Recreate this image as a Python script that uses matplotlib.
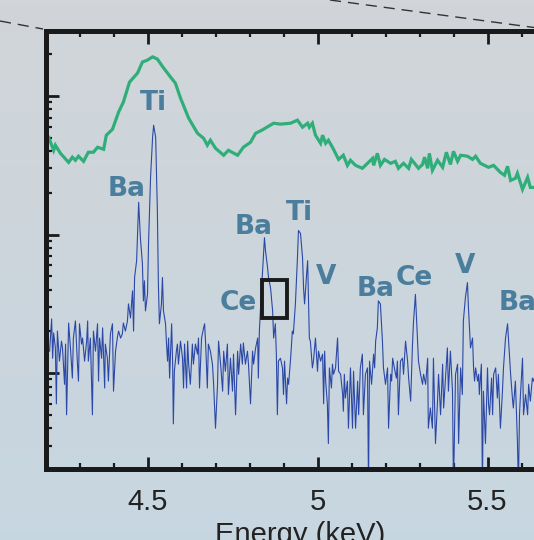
import numpy as np
import matplotlib
matplotlib.use("Agg")
from matplotlib import pyplot as plt
from matplotlib.lines import Line2D
from matplotlib.patches import Rectangle
from matplotlib.ticker import LogLocator, MultipleLocator, NullFormatter, FixedLocator

# --- data (energy in keV, counts on a log axis) ---
green_energy = [4.209, 4.224, 4.229, 4.244, 4.268, 4.279, 4.288, 4.297, 4.312, 4.326,
                4.341, 4.353, 4.371, 4.379, 4.397, 4.415, 4.429, 4.447, 4.471, 4.485,
                4.500, 4.515, 4.529, 4.547, 4.568, 4.582, 4.597, 4.621, 4.647, 4.665,
                4.676, 4.685, 4.700, 4.724, 4.738, 4.765, 4.782, 4.803, 4.818, 4.838,
                4.856, 4.871, 4.891, 4.921, 4.941, 4.956, 4.971, 4.976, 4.985, 4.994,
                5.009, 5.015, 5.024, 5.032, 5.044, 5.062, 5.076, 5.088, 5.097, 5.112,
                5.132, 5.147, 5.162, 5.165, 5.176, 5.185, 5.197, 5.215, 5.229, 5.238,
                5.253, 5.268, 5.276, 5.288, 5.297, 5.309, 5.315, 5.324, 5.329, 5.338,
                5.353, 5.368, 5.379, 5.391, 5.400, 5.412, 5.421, 5.441, 5.456, 5.465,
                5.479, 5.503, 5.518, 5.538, 5.550, 5.559, 5.568, 5.582, 5.588, 5.603,
                5.618, 5.626, 5.638, 5.650]
green_counts = [50.5, 40.6, 44.2, 38.6, 33.2, 36.2, 34.4, 36.8, 33.8, 39.3,
                39.3, 42.7, 41.3, 52.2, 57.6, 76.6, 90.5, 126, 147, 176,
                182, 192, 185, 160, 137, 124, 96.8, 69.3, 53.9, 49.6,
                44.2, 48.0, 42.0, 37.4, 40.6, 37.4, 42.7, 46.4, 53.9, 57.0,
                60.6, 63.7, 62.7, 63.7, 67.0, 59.6, 63.7, 59.6, 63.7, 52.2,
                45.6, 52.2, 45.6, 48.0, 42.7, 34.9, 37.4, 31.6, 34.4, 31.6,
                30.1, 32.7, 35.5, 31.6, 38.6, 31.6, 34.9, 32.7, 33.8, 30.1,
                32.7, 30.1, 34.9, 32.1, 30.1, 32.1, 36.2, 30.1, 38.6, 29.1,
                34.4, 30.6, 39.3, 32.1, 39.9, 33.8, 37.4, 36.8, 34.9, 36.8,
                32.7, 30.6, 31.6, 28.1, 26.8, 31.1, 24.6, 25.5, 27.7, 21.2,
                25.9, 21.9, 21.9, 21.0]

blue_energy = [4.212, 4.218, 4.221, 4.224, 4.229, 4.232, 4.235, 4.241, 4.247, 4.250,
               4.256, 4.259, 4.262, 4.268, 4.274, 4.279, 4.282, 4.288, 4.294, 4.297,
               4.300, 4.306, 4.309, 4.315, 4.321, 4.324, 4.326, 4.332, 4.338, 4.341,
               4.347, 4.353, 4.356, 4.359, 4.365, 4.368, 4.374, 4.376, 4.382, 4.385,
               4.391, 4.397, 4.400, 4.406, 4.412, 4.415, 4.421, 4.426, 4.429, 4.435,
               4.441, 4.444, 4.450, 4.456, 4.459, 4.462, 4.468, 4.474, 4.479, 4.485,
               4.488, 4.491, 4.494, 4.500, 4.503, 4.509, 4.515, 4.518, 4.524, 4.529,
               4.532, 4.535, 4.541, 4.544, 4.547, 4.553, 4.556, 4.559, 4.562, 4.565,
               4.571, 4.574, 4.576, 4.579, 4.585, 4.588, 4.591, 4.597, 4.603, 4.606,
               4.609, 4.615, 4.618, 4.621, 4.626, 4.632, 4.635, 4.641, 4.647, 4.650,
               4.653, 4.659, 4.665, 4.668, 4.671, 4.676, 4.679, 4.685, 4.691, 4.694,
               4.700, 4.706, 4.709, 4.715, 4.721, 4.724, 4.729, 4.735, 4.738, 4.744,
               4.750, 4.753, 4.759, 4.765, 4.768, 4.774, 4.779, 4.782, 4.788, 4.794,
               4.797, 4.803, 4.809, 4.812, 4.818, 4.824, 4.826, 4.829, 4.835, 4.838,
               4.844, 4.847, 4.853, 4.856, 4.862, 4.868, 4.871, 4.876, 4.879, 4.882,
               4.885, 4.891, 4.897, 4.900, 4.903, 4.909, 4.912, 4.915, 4.921, 4.926,
               4.929, 4.935, 4.941, 4.944, 4.950, 4.956, 4.959, 4.962, 4.968, 4.971,
               4.976, 4.979, 4.982, 4.985, 4.988, 4.994, 5.000, 5.003, 5.009, 5.015,
               5.018, 5.021, 5.024, 5.029, 5.032, 5.035, 5.041, 5.044, 5.047, 5.053,
               5.059, 5.062, 5.068, 5.074, 5.076, 5.079, 5.082, 5.088, 5.091, 5.097,
               5.103, 5.106, 5.112, 5.118, 5.121, 5.126, 5.132, 5.135, 5.141, 5.147,
               5.150, 5.153, 5.159, 5.165, 5.168, 5.171, 5.176, 5.179, 5.185, 5.191,
               5.194, 5.200, 5.206, 5.209, 5.215, 5.218, 5.221, 5.226, 5.232, 5.235,
               5.238, 5.244, 5.250, 5.253, 5.259, 5.265, 5.268, 5.274, 5.279, 5.282,
               5.288, 5.294, 5.297, 5.303, 5.309, 5.312, 5.318, 5.324, 5.326, 5.332,
               5.338, 5.341, 5.347, 5.353, 5.356, 5.362, 5.368, 5.371, 5.376, 5.382,
               5.385, 5.391, 5.397, 5.400, 5.406, 5.412, 5.415, 5.421, 5.426, 5.429,
               5.435, 5.441, 5.444, 5.450, 5.456, 5.459, 5.462, 5.465, 5.471, 5.474,
               5.476, 5.482, 5.485, 5.488, 5.494, 5.500, 5.503, 5.506, 5.512, 5.515,
               5.518, 5.524, 5.529, 5.532, 5.538, 5.544, 5.547, 5.553, 5.559, 5.562,
               5.568, 5.574, 5.576, 5.582, 5.588, 5.591, 5.594, 5.597, 5.603, 5.606,
               5.612, 5.618, 5.621, 5.626, 5.632, 5.635, 5.644]
blue_counts = [1.44, 2.46, 1.28, 1.95, 1.52, 0.60, 2.01, 1.22, 1.70, 1.52,
               0.83, 1.62, 0.50, 2.30, 1.44, 0.92, 1.79, 2.38, 1.16, 0.875,
               2.27, 1.62, 1.79, 1.22, 1.70, 2.38, 1.22, 1.79, 0.50, 2.01,
               1.44, 2.27, 0.875, 1.79, 1.28, 2.12, 0.78, 1.62, 1.28, 0.875,
               1.92, 2.27, 0.74, 1.44, 1.85, 2.01, 1.79, 1.92, 2.30, 2.01,
               2.38, 3.16, 2.50, 3.93, 2.01, 4.9, 6.48, 17.1, 9.5, 6.2,
               3.32, 4.64, 2.81, 3.7, 8.6, 25.9, 50.5, 61.6, 50.5, 14.9,
               4.4, 2.27, 3.16, 4.9, 2.81, 2.27, 1.62, 1.22, 1.79, 0.92,
               2.27, 1.16, 0.43, 1.03, 1.44, 1.62, 1.16, 1.70, 1.28, 0.78,
               1.62, 0.78, 1.70, 1.16, 0.83, 1.62, 1.16, 1.62, 1.37, 1.79,
               0.78, 1.79, 2.12, 2.27, 1.62, 0.78, 1.62, 1.44, 1.16, 0.875,
               0.40, 0.83, 1.70, 1.16, 0.74, 1.44, 1.03, 1.62, 0.70, 1.28,
               0.74, 1.37, 0.50, 1.44, 0.98, 1.62, 1.16, 1.65, 1.16, 1.44,
               1.16, 0.60, 1.44, 1.16, 1.52, 1.79, 0.92, 2.01, 3.93, 5.2,
               9.5, 7.66, 5.8, 4.9, 4.1, 2.81, 1.79, 2.27, 1.37, 0.50,
               1.22, 1.28, 1.09, 0.70, 1.22, 0.60, 0.92, 0.83, 1.28, 2.01,
               1.92, 3.16, 6.8, 10.7, 10.2, 6.8, 4.1, 3.16, 5.2, 6.48,
               1.79, 1.70, 1.37, 1.09, 1.22, 1.79, 1.03, 1.44, 1.22, 1.37,
               0.60, 1.44, 0.875, 0.60, 0.31, 1.09, 0.78, 1.16, 0.98, 1.09,
               1.79, 1.03, 0.98, 0.70, 0.53, 0.98, 0.66, 0.875, 0.40, 1.09,
               0.40, 1.03, 0.40, 0.875, 0.50, 1.09, 1.37, 0.50, 0.98, 1.09,
               0.15, 1.22, 0.83, 1.37, 1.09, 1.70, 2.12, 3.32, 3.16, 1.70,
               1.09, 0.83, 1.09, 0.40, 0.98, 0.875, 1.28, 1.09, 0.92, 1.22,
               0.50, 1.22, 1.28, 0.98, 1.70, 1.22, 0.92, 0.627, 1.52, 2.27,
               3.7, 1.79, 1.22, 0.98, 0.83, 0.98, 0.83, 1.28, 0.40, 0.56,
               0.40, 1.28, 0.31, 0.627, 0.98, 0.50, 1.16, 0.56, 0.875, 1.52,
               0.74, 1.44, 0.74, 0.15, 0.98, 1.16, 0.31, 1.09, 0.70, 2.38,
               3.5, 4.5, 2.96, 1.52, 1.79, 1.09, 0.875, 1.09, 0.875, 0.98,
               0.70, 1.16, 0.15, 0.74, 0.31, 1.09, 0.60, 0.50, 0.92, 0.50,
               0.98, 1.09, 0.66, 0.98, 0.40, 0.74, 1.09, 1.79, 2.27, 1.70,
               0.98, 0.627, 0.56, 0.875, 0.32, 0.15, 0.50, 0.70, 1.28, 0.50,
               0.70, 0.50, 0.83, 0.627, 0.92, 0.875, 1.03]

# element labels: (text, energy, counts)
peak_labels = ["Ti", "Ba", "Ba", "Ti", "V", "Ce", "Ba", "Ce", "V", "Ba"]
label_energy = [4.518, 4.438, 4.812, 4.947, 5.024, 4.768, 5.171, 5.285, 5.435, 5.588]
label_counts = [89, 21.5, 11.4, 14.2, 4.96, 3.2, 4.06, 4.88, 5.96, 3.2]

# highlighted window
box_energy = (4.836, 4.910)
box_counts = (2.50, 4.67)

fig = plt.figure(figsize=(5.34, 5.40), dpi=100)

# soft gradient background
bg = fig.add_axes([0, 0, 1, 1], zorder=-10)
grad = np.linspace(0, 1, 256).reshape(-1, 1)
top_col = np.array([0.820, 0.835, 0.850])
bot_col = np.array([0.780, 0.840, 0.880])
img = top_col[None, None, :] * (1 - grad[:, :, None]) + bot_col[None, None, :] * grad[:, :, None]
bg.imshow(img, aspect="auto", extent=[0, 1, 0, 1])
bg.axis("off")

ax = fig.add_axes([45.5 / 534, 1 - 469 / 540, 510 / 534, (469 - 30.8) / 540])
ax.set_facecolor("none")

ax.plot(green_energy, green_counts, color="#2fae7a", lw=2.3, solid_joinstyle="miter")
ax.plot(blue_energy, blue_counts, color="#2b48a6", lw=0.8)

for t, e, c in zip(peak_labels, label_energy, label_counts):
    ax.text(e, c, t, color="#4a7e9c", fontsize=19, fontweight="bold",
            ha="center", va="center", family="DejaVu Sans")

ax.add_patch(Rectangle((box_energy[0], box_counts[0]), box_energy[1] - box_energy[0],
                       box_counts[1] - box_counts[0], fill=False, ec="#1a1a1a", lw=2.8, zorder=5))

ax.set_yscale("log")
ax.set_xlim(4.2, 5.7)
ax.set_ylim(0.203, 296)

ax.xaxis.set_major_locator(FixedLocator([4.5, 5.0, 5.5]))
ax.xaxis.set_minor_locator(MultipleLocator(0.1))
ax.set_xticklabels(["4.5", "5", "5.5"])
ax.yaxis.set_major_locator(LogLocator(base=10))
ax.yaxis.set_minor_locator(LogLocator(base=10, subs=np.arange(2, 10)))
ax.yaxis.set_major_formatter(NullFormatter())
ax.yaxis.set_minor_formatter(NullFormatter())

ax.tick_params(which="both", direction="in", top=True, right=False, color="#1a1a1a")
ax.tick_params(which="major", length=9, width=2.0, pad=14)
ax.tick_params(which="minor", length=4, width=1.6)
for lab in ax.get_xticklabels():
    lab.set_fontsize(21)
    lab.set_family("Liberation Sans")
    lab.set_color("#222222")

for sp in ax.spines.values():
    sp.set_linewidth(3.6)
    sp.set_color("#1a1a1a")

ax.set_xlabel("Energy (keV)", fontsize=21, family="Liberation Sans", color="#222222", labelpad=3)

# dashed zoom guide lines
fig.add_artist(Line2D([0, 43 / 534], [1 - 21 / 540, 1 - 29 / 540], transform=fig.transFigure,
                      color="#333333", lw=1.0, ls=(0, (8, 5))))
fig.add_artist(Line2D([330 / 534, 1.0], [1.0, 1 - 27.5 / 540], transform=fig.transFigure,
                      color="#333333", lw=1.0, ls=(0, (8, 5))))

plt.savefig("out.png", dpi=100)
